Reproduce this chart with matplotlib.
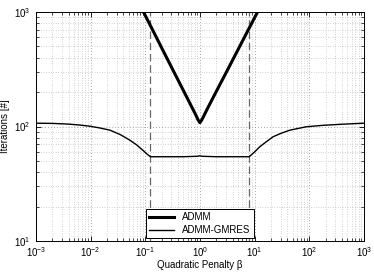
import numpy as np
import matplotlib
matplotlib.use('Agg')
import matplotlib.pyplot as plt

plt.rcParams['font.family'] = ['Liberation Sans', 'DejaVu Sans']
plt.rcParams['mathtext.fontset'] = 'custom'
plt.rcParams['mathtext.rm'] = 'Liberation Sans'
plt.rcParams['mathtext.it'] = 'Liberation Sans:italic'

# penalty values and iteration counts
beta_admm = [0.08, 0.1, 0.15, 0.2, 0.3, 0.5, 0.7, 0.85, 0.92, 1.0,
             1.08, 1.15, 1.4, 2.0, 3.0, 5.0, 8.0, 12.0]
iter_admm = [1150, 933, 638, 486, 332, 206, 150, 125, 115, 108,
             114, 121, 146, 203, 294, 471, 726, 1055]

beta_gmres = [0.001, 0.002, 0.004, 0.0064, 0.01, 0.015, 0.0226, 0.035,
              0.0524, 0.07, 0.0906, 0.11, 0.125, 0.5, 0.9, 1.0, 1.1, 2.0,
              8.0, 10.0, 12.5, 16.0, 21.9, 30.0, 44.3, 89.0, 180.0,
              363.0, 1000.0]
iter_gmres = [107, 106.5, 105, 103, 100.5, 97, 93, 85,
              76, 69, 62, 57, 54.5, 54.5, 55.0, 55.5, 55.0, 54.5,
              54.5, 60, 66.7, 73, 81.5, 87, 93, 99.6, 102.5,
              104.5, 107]

beta_marks = [0.122, 7.9]   # dashed vertical markers

fig = plt.figure(figsize=(3.74, 2.73), dpi=100)
ax = fig.add_axes([0.096, 0.117, 0.877, 0.839])

for b in beta_marks:
    ax.axvline(b, color='#666666', ls=(0, (6, 3)), lw=0.9, zorder=2)

ax.loglog(beta_admm, iter_admm, 'k-', lw=2.2, label='ADMM', zorder=3)
ax.loglog(beta_gmres, iter_gmres, 'k-', lw=1.0, label='ADMM-GMRES', zorder=3)

ax.set_xlim(1e-3, 1e3)
ax.set_ylim(10, 1000)
ax.set_xticks([1e-3, 1e-2, 1e-1, 1e0, 1e1, 1e2, 1e3])
ax.set_yticks([10, 100, 1000])

ax.grid(True, which='major', ls=(0, (1, 2.5)), color='#8a8a8a', lw=0.6)
ax.grid(True, which='minor', ls=(0, (1, 2.5)), color='#aaaaaa', lw=0.5)
ax.tick_params(which='both', direction='in', top=True, right=True,
               labelsize=7)
ax.tick_params(axis='x', pad=3)
ax.tick_params(axis='y', pad=4)
ax.tick_params(which='major', length=3.5, width=0.6)
ax.tick_params(which='minor', length=2, width=0.5)
for s in ax.spines.values():
    s.set_linewidth(0.7)

ax.set_xlabel('Quadratic Penalty β', fontsize=7, labelpad=1)
ax.set_ylabel('Iterations [#]', fontsize=7, labelpad=3)

leg = ax.legend(loc='lower center', fontsize=7, handlelength=2.6,
                borderaxespad=0.3, fancybox=False, framealpha=1,
                edgecolor='black', borderpad=0.3, labelspacing=0.3)
leg.get_frame().set_linewidth(0.7)

fig.savefig('out.png', dpi=100)
